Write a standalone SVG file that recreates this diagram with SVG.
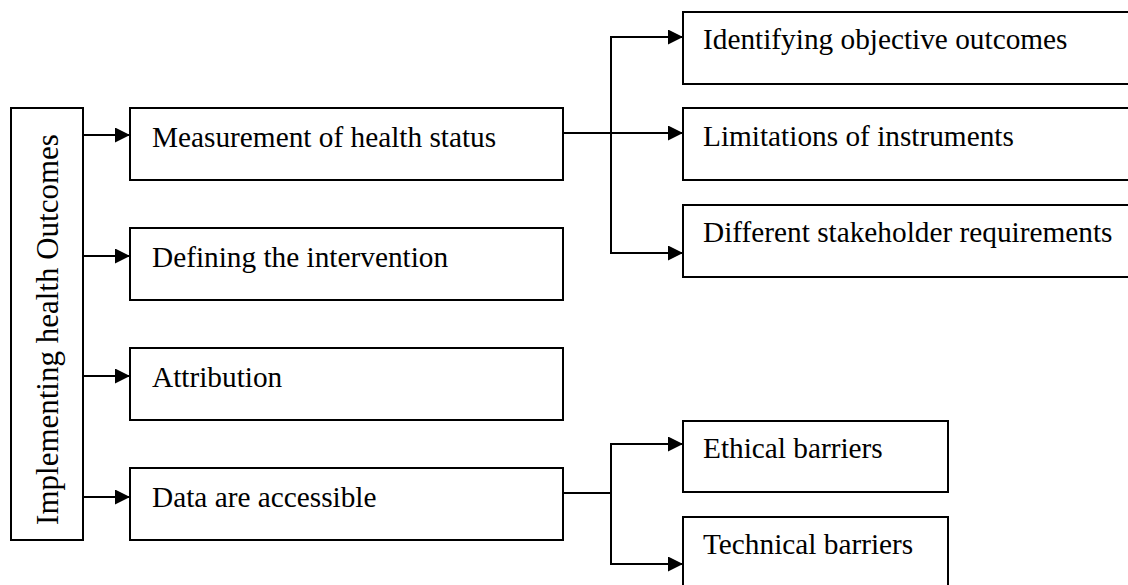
<svg xmlns="http://www.w3.org/2000/svg" width="1128" height="585" viewBox="0 0 1128 585">
  <style>
    .box { fill: #ffffff; stroke: #000000; stroke-width: 2; }
    .lbl { font-family: "Liberation Serif", "Times New Roman", serif; font-size: 29.3px; fill: #000000; }
    .edge { fill: none; stroke: #000000; stroke-width: 2; }
  </style>
  <defs>
    <marker id="arrow" markerWidth="15" markerHeight="15" refX="15" refY="7.5" orient="auto" markerUnits="userSpaceOnUse">
      <path d="M0,0 L15,7.5 L0,15 Z" fill="#000000"/>
    </marker>
  </defs>
  <rect width="1128" height="585" fill="#ffffff"/>

  <!-- root node -->
  <g id="root">
    <rect class="box" x="11" y="108" width="72" height="432"/>
    <text class="lbl" style="font-size:31px" text-anchor="middle" transform="translate(58,329.5) rotate(-90)">Implementing health Outcomes</text>
  </g>

  <!-- first-level nodes -->
  <g id="measurement">
    <rect class="box" x="130" y="108" width="433" height="72"/>
    <text class="lbl" x="152" y="147">Measurement of health status</text>
  </g>
  <g id="defining">
    <rect class="box" x="130" y="228" width="433" height="72"/>
    <text class="lbl" x="152" y="267">Defining the intervention</text>
  </g>
  <g id="attribution">
    <rect class="box" x="130" y="348" width="433" height="72"/>
    <text class="lbl" x="152" y="387">Attribution</text>
  </g>
  <g id="data">
    <rect class="box" x="130" y="468" width="433" height="72"/>
    <text class="lbl" x="152" y="507">Data are accessible</text>
  </g>

  <!-- second-level nodes: measurement -->
  <g id="identifying">
    <rect class="box" x="683" y="12" width="460" height="72"/>
    <text class="lbl" x="703" y="49">Identifying objective outcomes</text>
  </g>
  <g id="limitations">
    <rect class="box" x="683" y="108" width="460" height="72"/>
    <text class="lbl" x="703" y="146">Limitations of instruments</text>
  </g>
  <g id="stakeholder">
    <rect class="box" x="683" y="205" width="460" height="72"/>
    <text class="lbl" x="703" y="242">Different stakeholder requirements</text>
  </g>

  <!-- second-level nodes: data -->
  <g id="ethical">
    <rect class="box" x="683" y="421" width="265" height="71"/>
    <text class="lbl" x="703" y="458">Ethical barriers</text>
  </g>
  <g id="technical">
    <rect class="box" x="683" y="517" width="265" height="80"/>
    <text class="lbl" x="703" y="554">Technical barriers</text>
  </g>

  <!-- connectors -->
  <g id="connectors">
    <line class="edge" x1="84" y1="135" x2="130" y2="135" marker-end="url(#arrow)"/>
    <line class="edge" x1="84" y1="256" x2="130" y2="256" marker-end="url(#arrow)"/>
    <line class="edge" x1="84" y1="376" x2="130" y2="376" marker-end="url(#arrow)"/>
    <line class="edge" x1="84" y1="497" x2="130" y2="497" marker-end="url(#arrow)"/>

    <line class="edge" x1="563" y1="133" x2="683" y2="133" marker-end="url(#arrow)"/>
    <line class="edge" x1="611" y1="37" x2="611" y2="253"/>
    <line class="edge" x1="610" y1="37" x2="683" y2="37" marker-end="url(#arrow)"/>
    <line class="edge" x1="610" y1="253" x2="683" y2="253" marker-end="url(#arrow)"/>

    <line class="edge" x1="563" y1="493" x2="612" y2="493"/>
    <line class="edge" x1="611" y1="444" x2="611" y2="564"/>
    <line class="edge" x1="610" y1="444" x2="683" y2="444" marker-end="url(#arrow)"/>
    <line class="edge" x1="610" y1="564" x2="683" y2="564" marker-end="url(#arrow)"/>
  </g>
</svg>
